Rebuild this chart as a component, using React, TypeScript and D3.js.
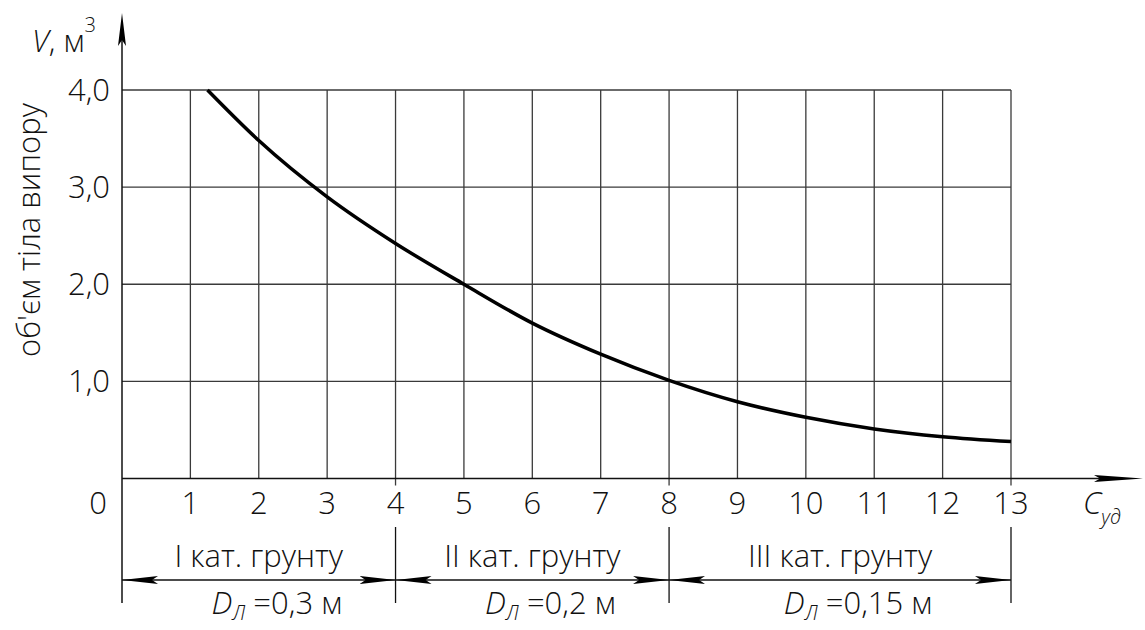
import React from 'react';
import * as d3 from 'd3';

// Curve: specific cohesion C_уд vs. volume of heave body V (m³)
const cudValues = [1.25, 2, 3, 4, 5, 6, 7, 8, 9, 10, 11, 12, 13];
const volumeValues = [4.0, 3.48, 2.9, 2.42, 2.0, 1.6, 1.28, 1.01, 0.79, 0.63, 0.51, 0.43, 0.38];

const xTicks = [1, 2, 3, 4, 5, 6, 7, 8, 9, 10, 11, 12, 13];
const yTicks = [1, 2, 3, 4];
const yTickLabels = ['1,0', '2,0', '3,0', '4,0'];

// soil categories along the x axis
const categoryBounds = [0, 4, 8, 13];
const categoryLabels = ['I кат. грунту', 'II кат. грунту', 'III кат. грунту'];
const diameterLabels = ['=0,3 м', '=0,2 м', '=0,15 м'];

const W = 1145;
const H = 630;
const FONT = '"Open Sans", "DejaVu Sans", sans-serif';
const FS = 31;
const INK = '#111';

const App = () => {
  const x = d3.scaleLinear().domain([0, 13]).range([122, 1011]);
  const y = d3.scaleLinear().domain([0, 4]).range([478.5, 90]);

  const line = d3.line<number>()
    .x((_, i) => x(cudValues[i]))
    .y(d => y(d))
    .curve(d3.curveMonotoneX);

  const x0 = x(0);
  const y0 = y(0);
  const dimY = 580; // dimension line with arrows

  return (
    <svg width={W} height={H} style={{ position: 'absolute', left: 0, top: 0, background: '#fff' }}
      fontFamily={FONT} fontWeight={300}>
      <defs>
        <marker id="dimArrow" viewBox="0 0 36 8" refX="36" refY="4" markerWidth="36" markerHeight="8"
          markerUnits="userSpaceOnUse" orient="auto-start-reverse">
          <path d="M0,0 L36,4 L0,8 L6,4 Z" fill="#000" />
        </marker>
      </defs>

      {/* grid */}
      {yTicks.map(t => (
        <line key={'h' + t} x1={x0} x2={x(13)} y1={y(t)} y2={y(t)} stroke="#3a3a3a" strokeWidth={1.3} />
      ))}
      {xTicks.map(t => (
        <line key={'v' + t} x1={x(t)} x2={x(t)} y1={y(4)}
          y2={categoryBounds.includes(t) ? y0 + 7 : y0} stroke="#3a3a3a" strokeWidth={1.3} />
      ))}

      {/* axes */}
      <line x1={x0} x2={x0} y1={603} y2={40} stroke={INK} strokeWidth={1.5} />
      <path d={`M${x0},13 L${x0 + 4},46 L${x0},40 L${x0 - 4},46 Z`} fill="#000" />
      <line x1={x0} x2={1115} y1={y0} y2={y0} stroke={INK} strokeWidth={1.5} />
      <path d={`M1143,${y0} L1094,${y0 - 3.5} L1100,${y0} L1094,${y0 + 3.5} Z`} fill="#000" />

      {/* curve */}
      <path d={line(volumeValues) || ''} fill="none" stroke="#000" strokeWidth={3.5} />

      {/* y tick labels */}
      {yTicks.map((t, i) => (
        <text key={'yl' + t} x={110} y={y(t) + 11} textAnchor="end" fontSize={FS} fill={INK}>
          {yTickLabels[i]}
        </text>
      ))}
      {/* x tick labels */}
      <text x={98} y={514} textAnchor="middle" fontSize={FS} fill={INK}>0</text>
      {xTicks.map(t => (
        <text key={'xl' + t} x={x(t)} y={514} textAnchor="middle" fontSize={FS} fill={INK}>{t}</text>
      ))}

      {/* axis titles */}
      <text x={32} y={52} fontSize={FS} fill={INK}>
        <tspan fontStyle="italic">V</tspan>, м<tspan dy={-20} fontSize={20}>3</tspan>
      </text>
      <text x={1083} y={514} fontSize={FS} fill={INK} fontStyle="italic">
        C<tspan dy={10} fontSize={20}>уд</tspan>
      </text>
      <text transform="translate(40,230) rotate(-90)" textAnchor="middle" fontSize={FS} fill={INK}>
        об'єм тіла випору
      </text>

      {/* category separators and dimension lines */}
      {categoryBounds.slice(1).map(b => (
        <line key={'s' + b} x1={x(b)} x2={x(b)} y1={527} y2={603} stroke={INK} strokeWidth={1.3} />
      ))}
      {categoryLabels.map((lab, i) => {
        const a = x(categoryBounds[i]);
        const b = x(categoryBounds[i + 1]);
        const c = (a + b) / 2;
        return (
          <g key={'c' + i}>
            <line x1={a} x2={b} y1={dimY} y2={dimY} stroke={INK} strokeWidth={1.3}
              markerStart="url(#dimArrow)" markerEnd="url(#dimArrow)" />
            <text x={c} y={567} textAnchor="middle" fontSize={FS} fill={INK}>{lab}</text>
            <text x={c + 18} y={614} textAnchor="middle" fontSize={FS} fill={INK}>
              <tspan fontStyle="italic">D</tspan>
              <tspan dy={6} fontSize={20} fontStyle="italic">Л</tspan>
              <tspan dy={-6}> {diameterLabels[i]}</tspan>
            </text>
          </g>
        );
      })}
    </svg>
  );
};

export default App;
